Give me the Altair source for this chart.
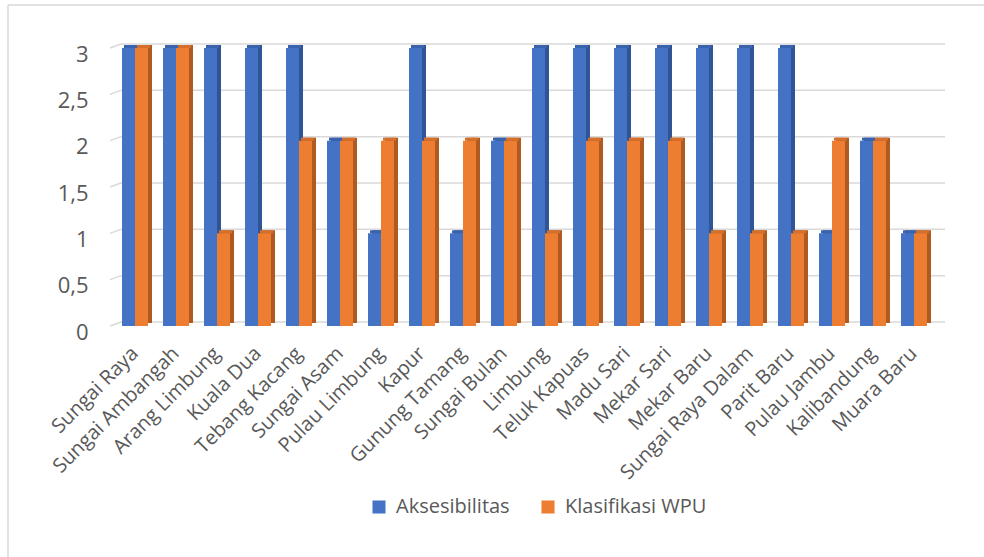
import altair as alt
import pandas as pd

# Desa / kelurahan and their scores
desa = [
    "Sungai Raya", "Sungai Ambangah", "Arang Limbung", "Kuala Dua", "Tebang Kacang",
    "Sungai Asam", "Pulau Limbung", "Kapur", "Gunung Tamang", "Sungai Bulan",
    "Limbung", "Teluk Kapuas", "Madu Sari", "Mekar Sari", "Mekar Baru",
    "Sungai Raya Dalam", "Parit Baru", "Pulau Jambu", "Kalibandung", "Muara Baru",
]
aksesibilitas = [3, 3, 3, 3, 3, 2, 1, 3, 1, 2, 3, 3, 3, 3, 3, 3, 3, 1, 2, 1]
klasifikasi_wpu = [3, 3, 1, 1, 2, 2, 2, 2, 2, 2, 1, 2, 2, 2, 1, 1, 1, 2, 2, 1]
seri = ["Aksesibilitas", "Klasifikasi WPU"]
y_ticks = [0, 0.5, 1, 1.5, 2, 2.5, 3]

warna = ["#4472C4", "#ED7D31"]
warna_sisi = ["#2F5597", "#AE5A21"]
warna_atas = ["#3A63AE", "#D66F2B"]

rows = []
for d, a, k in zip(desa, aksesibilitas, klasifikasi_wpu):
    rows.append({"desa": d, "seri": seri[0], "nilai": a})
    rows.append({"desa": d, "seri": seri[1], "nilai": k})
df = pd.DataFrame(rows)

FONT = "Open Sans"
TEXT = "#595959"
GRID = "#D9D9D9"
W, H = 829, 278
BAR = 13          # width of one bar (half of the band)
DX, DY = 4, 3     # depth of the 3-D faces

y_axis = alt.Axis(
    values=y_ticks, format=".1~f", labelExpr="replace(datum.label, '.', ',')",
    grid=False, domain=False, ticks=False, labelPadding=22, labelOffset=6,
    labelFontSize=22, labelColor=TEXT, labelFont=FONT, title=None,
)
x_axis = alt.Axis(
    labelAngle=-45, labelAlign="right", labelBaseline="middle",
    domain=False, ticks=False, labelPadding=24, labelFontSize=20,
    labelColor=TEXT, labelFont=FONT, title=None, grid=False,
)
y_enc = alt.Y("nilai:Q", scale=alt.Scale(domain=[0, 3], nice=False, zero=True), axis=y_axis)
x_enc = alt.X("desa:N", sort=desa,
              scale=alt.Scale(paddingInner=0.366, paddingOuter=0.293), axis=x_axis)

# back wall gridlines with a short slanted floor segment
grid_df = pd.DataFrame({"nilai": y_ticks})
grid_back = alt.Chart(grid_df).mark_rule(color=GRID, strokeWidth=1.5, yOffset=-4).encode(
    y=y_enc, x=alt.value(11), x2=alt.value(835)
)
grid_slant = alt.Chart(grid_df).mark_rule(color=GRID, strokeWidth=1.5, yOffset=0, y2Offset=-4).encode(
    y=y_enc, y2=alt.Y2("nilai:Q"), x=alt.value(0), x2=alt.value(11)
)

layers = []
for i, s in enumerate(seri):
    sub = alt.Chart(df).transform_filter(alt.datum.seri == s)
    shift = (i - 0.5) * BAR
    # side face: offset copy in a darker tone
    layers.append(sub.mark_bar(width=BAR, xOffset=shift + DX, yOffset=-DY, y2Offset=-DY,
                               color=warna_sisi[i]).encode(
        x=x_enc, y=y_enc, y2=alt.datum(0)))
for i, s in enumerate(seri):
    sub = alt.Chart(df).transform_filter(alt.datum.seri == s)
    shift = (i - 0.5) * BAR
    # top face
    layers.append(sub.mark_bar(width=BAR, xOffset=shift + DX / 2, yOffset=-DY, y2Offset=0,
                               color=warna_atas[i]).encode(
        x=x_enc, y=y_enc, y2=alt.Y2("nilai:Q")))
for i, s in enumerate(seri):
    sub = alt.Chart(df).transform_filter(alt.datum.seri == s)
    shift = (i - 0.5) * BAR
    # front face, carrying the legend
    layers.append(sub.mark_bar(width=BAR, xOffset=shift).encode(
        x=x_enc, y=y_enc,
        color=alt.Color(
            "seri:N", sort=seri,
            scale=alt.Scale(domain=seri, range=warna),
            legend=alt.Legend(
                orient="none", legendX=259, legendY=449, direction="horizontal",
                title=None, symbolType="square", symbolSize=170, symbolStrokeWidth=0,
                labelFontSize=20, labelFont=FONT, labelColor=TEXT, labelOffset=7,
                columnPadding=28,
            ),
        ),
    ))

# outer chart frame (top and left edges)
one = alt.Data(values=[{"f": 1}])
frame_top = alt.Chart(one).mark_rule(color=GRID, strokeWidth=1.5).encode(
    x=alt.value(-102), x2=alt.value(W + 60), y=alt.value(-43))
frame_left = alt.Chart(one).mark_rule(color=GRID, strokeWidth=1.5).encode(
    x=alt.value(-102), y=alt.value(-43), y2=alt.value(H + 240))

chart = alt.layer(frame_top, frame_left, grid_back, grid_slant, *layers).properties(
    width=W, height=H,
    autosize=alt.AutoSizeParams(type="none"),
    padding={"left": 110, "top": 48, "right": 45, "bottom": 231},
    background="white",
).configure_view(stroke=None)

chart.save("out.html", embed_options={"renderer": "svg", "actions": False})
